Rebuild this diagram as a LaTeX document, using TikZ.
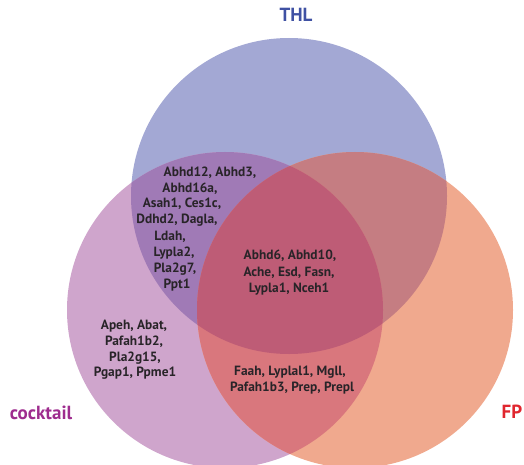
\documentclass[tikz,border=0pt]{standalone}
\usepackage{fontspec}
\setmainfont{PT Sans}
\definecolor{cTHL}{RGB}{163,168,212}
\definecolor{cCK}{RGB}{207,165,204}
\definecolor{cFP}{RGB}{240,169,142}
\definecolor{cTC}{RGB}{160,122,182}
\definecolor{cTF}{RGB}{197,125,130}
\definecolor{cCF}{RGB}{217,119,125}
\definecolor{cALL}{RGB}{190,92,118}
\definecolor{txt}{RGB}{40,36,40}
\definecolor{lTHL}{RGB}{63,81,163}
\definecolor{lCK}{RGB}{158,44,142}
\definecolor{lFP}{RGB}{224,38,46}
\begin{document}
\begin{tikzpicture}[x=1pt,y=-1pt,
  gene/.style={font=\bfseries\fontsize{13.4}{15}\selectfont, text=txt, inner sep=0pt, anchor=center},
  setlbl/.style={font=\bfseries\fontsize{19}{21}\selectfont, inner sep=0pt, anchor=center}]
\useasboundingbox (0,0) rectangle (524,465);
\coordinate (T) at (289,196);
\coordinate (C) at (225,310);
\coordinate (F) at (355,310);
\def\R{158pt}
% single sets
\fill[cTHL] (T) circle (\R);
\fill[cCK] (C) circle (\R);
\fill[cFP] (F) circle (\R);
% pairwise
\begin{scope}
  \clip (T) circle (\R);
  \fill[cTC] (C) circle (\R);
  \fill[cTF] (F) circle (\R);
\end{scope}
\begin{scope}
  \clip (C) circle (\R);
  \fill[cCF] (F) circle (\R);
  \clip (F) circle (\R);
  \fill[cALL] (T) circle (\R);
\end{scope}
% THL & cocktail
\node[gene] (a1) at (210,173) {Abhd12, Abhd3,};
\node[gene] (a2) at (190,189) {Abhd16a,};
\node[gene] (a3) at (182,204) {Asah1, Ces1c,};
\node[gene] (a4) at (177,220) {Ddhd2, Dagla,};
\node[gene] (a5) at (170,237) {Ldah,};
\node[gene] (a6) at (174,253) {Lypla2,};
\node[gene] (a7) at (175,269) {Pla2g7,};
\node[gene] (a8) at (177,285) {Ppt1};
% all three
\node[gene] (b1) at (290,256) {Abhd6, Abhd10,};
\node[gene] (b2) at (289,273) {Ache, Esd, Fasn,};
\node[gene] (b3) at (289,289) {Lypla1, Nceh1};
% cocktail only
\node[gene] (c1) at (134,326) {Apeh, Abat,};
\node[gene] (c2) at (134,342) {Pafah1b2,};
\node[gene] (c3) at (135,358) {Pla2g15,};
\node[gene] (c4) at (135,373) {Pgap1, Ppme1};
% cocktail & FP
\node[gene] (d1) at (290,372) {Faah, Lyplal1, Mgll,};
\node[gene] (d2) at (292,388) {Pafah1b3, Prep, Prepl};
% set labels
\node[setlbl, text=lTHL] (lt) at (296,15) {THL};
\node[setlbl, text=lCK] (lc) at (41,413) {cocktail};
\node[setlbl, text=lFP] (lf) at (512,412) {FP};
\end{tikzpicture}
\end{document}
